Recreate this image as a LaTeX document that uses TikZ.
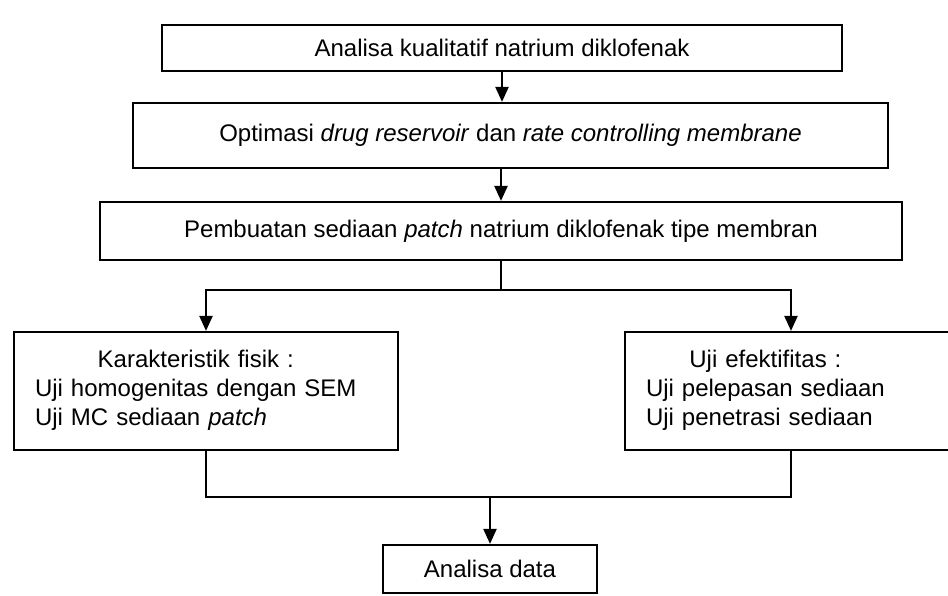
\documentclass[tikz,border=0pt]{standalone}
\usepackage{fontspec}
\setmainfont{Liberation Sans}
\usetikzlibrary{arrows.meta}
\begin{document}
\begin{tikzpicture}[x=0.5pt,y=-0.5pt,
    box/.style={draw,line width=1.1pt,inner xsep=10.5pt,inner ysep=0pt,
      font=\fontsize{12}{14.4}\selectfont},
    link/.style={line width=1.1pt},
    flow/.style={link,-{Triangle[width=6.5pt,length=7.5pt]}}]
    \useasboundingbox (0,0) rectangle (948,595);
    %% main steps
    \node[box,minimum width=340pt,minimum height=23pt] (kual) at (502,48)
    {Analisa kualitatif natrium diklofenak};
    \node[box,minimum width=377.5pt,minimum height=32.5pt] (opt) at (510.5,135.5)
    {Optimasi \textit{drug reservoir} dan \textit{rate controlling membrane}};
    \node[box,minimum width=401pt,minimum height=29pt] (buat) at (501,231)
    {Pembuatan sediaan \textit{patch} natrium diklofenak tipe membran};
    %% tests
    \node[box,text width=171pt,align=left,minimum height=59pt] (fisik) at (206,391)
    {\begin{tabular}{@{}l@{}}\multicolumn{1}{@{}c@{}}{Karakteristik fisik :}\\
      Uji homogenitas dengan SEM\\ Uji MC sediaan \textit{patch}\end{tabular}};
    \node[box,text width=145pt,align=left,minimum height=59pt] (efek) at (791,391)
    {\begin{tabular}{@{}l@{}}\multicolumn{1}{@{}c@{}}{Uji efektifitas :}\\
      Uji pelepasan sediaan\\ Uji penetrasi sediaan\end{tabular}};
    \node[box,minimum width=107pt,minimum height=24pt] (data) at (490,569)
    {Analisa data};
    %% arrows
    \draw[flow] (kual.south) -- (kual.south |- opt.north);
    \draw[flow] (buat.north |- opt.south) -- (buat.north);
    \coordinate (bagi) at (501,290);
    \draw[link] (buat.south) -- (bagi);
    \draw[flow] (bagi) -| (fisik.north);
    \draw[flow] (bagi) -| (efek.north);
    \coordinate (gabung) at (490,497);
    \draw[link] (fisik.south) |- (gabung) -| (efek.south);
    \draw[flow] (gabung) -- (data);
\end{tikzpicture}
\end{document}
